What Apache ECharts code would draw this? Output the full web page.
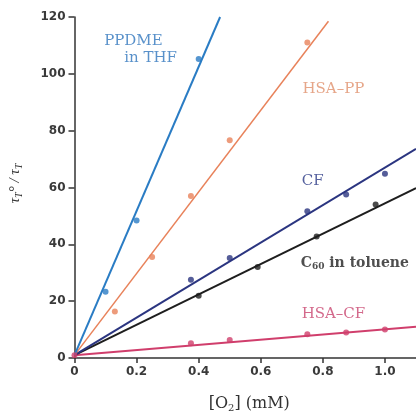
<!DOCTYPE html>
<html><head><meta charset="utf-8">
<script src="https://cdn.jsdelivr.net/npm/echarts@6/dist/echarts.min.js"></script>
<style>html,body{margin:0;padding:0;background:#fff}#c{width:416px;height:418px}</style>
</head><body><div id="c"></div>
<script>
// measured points [O2 mM, tau0/tau]
const ppdmePts = [[0.1, 23.3], [0.2, 48.4], [0.4, 105.2]];
const hsaPpPts = [[0.13, 16.4], [0.25, 35.5], [0.375, 57], [0.5, 76.6], [0.75, 111]];
const cfPts = [[0.375, 27.5], [0.5, 35.2], [0.75, 51.6], [0.875, 57.5], [1.0, 64.8]];
const c60Pts = [[0.4, 21.9], [0.59, 32], [0.78, 42.8], [0.97, 54]];
const hsaCfPts = [[0, 1], [0.375, 5.2], [0.5, 6.3], [0.75, 8.4], [0.875, 9], [1.0, 10]];
// fitted line end points
const ppdmeFit = [[0, 1], [0.469, 120]];
const hsaPpFit = [[0, 1], [0.818, 118.5]];
const cfFit = [[0, 1], [1.1, 73.6]];
const c60Fit = [[0, 1], [1.1, 59.8]];
const hsaCfFit = [[0, 1], [1.1, 11]];
// label anchors
const labels = [
  {value: [0.33, 108.4], text: 'PPDME   \nin THF', color: '#2f76bd', align: 'right', size: 15},
  {value: [0.834, 94.8], text: 'HSA–PP', color: '#e0906c', align: 'center', size: 15},
  {value: [0.767, 62.4], text: 'CF', color: '#2b3a86', align: 'center', size: 15},
  {value: [0.903, 33.4], text: '{b|C}{sub|60}{b| in toluene}', color: '#222', align: 'center', size: 14},
  {value: [0.834, 15.3], text: 'HSA–CF', color: '#c8446e', align: 'center', size: 15}
];
const xTicks = [0, 0.2, 0.4, 0.6, 0.8, 1.0];
const yTicks = [0, 20, 40, 60, 80, 100, 120];

const colors = {ppdme: '#2a7cc4', hsaPp: '#e8825a', cf: '#2b3580', c60: '#1e1e1e', hsaCf: '#d03e6c'};
function pair(name, pts, fit, color, w) {
  return [
    {name: name, type: 'line', data: fit, symbol: 'none', lineStyle: {color: color, width: w}, z: 2, silent: true},
    {name: name + ' pts', type: 'scatter', data: pts, symbolSize: 6, itemStyle: {color: color}, z: 3}
  ];
}
const SERIF = 'DejaVu Serif';
const chart = echarts.init(document.getElementById('c'), null, {renderer: 'canvas'});
const tickFont = {fontFamily: 'DejaVu Sans', fontSize: 12, fontWeight: 'bold', color: '#3a3a3a'};
chart.setOption({
  animation: false,
  grid: {left: 70, right: 0, top: 17, bottom: 57},
  xAxis: {
    type: 'value', min: 0, max: 1.1, interval: 0.2,
    axisLine: {lineStyle: {color: '#333', width: 1.5}},
    axisTick: {length: 5, lineStyle: {color: '#333', width: 1.5}},
    splitLine: {show: false},
    axisLabel: Object.assign({margin: 8, showMaxLabel: false,
      formatter: v => xTicks.indexOf(+v.toFixed(1)) < 0 ? '' : (v === 0 ? '0' : v.toFixed(1))}, tickFont),
    name: '[O{s|2}] (mM)', nameLocation: 'middle', nameGap: 37,
    nameTextStyle: {fontFamily: SERIF, fontSize: 16, color: '#333', padding: [0, 0, 0, 8],
      rich: {s: {fontSize: 10, padding: [8, 0, 0, 0], fontFamily: SERIF, color: '#333'}}}
  },
  yAxis: {
    type: 'value', min: 0, max: 120, interval: 20,
    axisLine: {show: true, lineStyle: {color: '#333', width: 1.5}},
    axisTick: {show: true, length: 6, lineStyle: {color: '#333', width: 1.5}},
    splitLine: {show: false},
    axisLabel: Object.assign({margin: 9, formatter: v => yTicks.indexOf(v) < 0 ? '' : String(v)}, tickFont),
    name: '{i|τ}{s|T}{i|° / τ}{s|T}', nameLocation: 'middle', nameGap: 50, nameRotate: 90,
    nameTextStyle: {padding: [0, 0, 0, 8], rich: {
      i: {fontFamily: 'Liberation Serif', fontStyle: 'italic', fontSize: 15, color: '#333'},
      s: {fontFamily: 'Liberation Serif', fontStyle: 'italic', fontSize: 10, color: '#333', padding: [8, 0, 0, 0]}
    }}
  },
  series: [].concat(
    pair('HSA-CF', hsaCfPts, hsaCfFit, colors.hsaCf, 2),
    pair('C60', c60Pts, c60Fit, colors.c60, 2),
    pair('CF', cfPts, cfFit, colors.cf, 2),
    pair('HSA-PP', hsaPpPts, hsaPpFit, colors.hsaPp, 1.5),
    pair('PPDME', ppdmePts, ppdmeFit, colors.ppdme, 2),
    [{
      type: 'scatter', symbolSize: 0, silent: true, z: 5,
      data: labels.map(l => ({value: l.value, label: {
        show: true, position: 'inside', formatter: l.text, color: l.color, align: l.align,
        fontFamily: SERIF, fontSize: l.size, lineHeight: 17,
        rich: {
          b: {fontFamily: SERIF, fontSize: l.size, fontWeight: 'bold', color: '#222'},
          sub: {fontFamily: SERIF, fontSize: 9, fontWeight: 'bold', color: '#222', padding: [7, 0, 0, 0]}
        }
      }}))
    }]
  )
});
</script></body></html>
